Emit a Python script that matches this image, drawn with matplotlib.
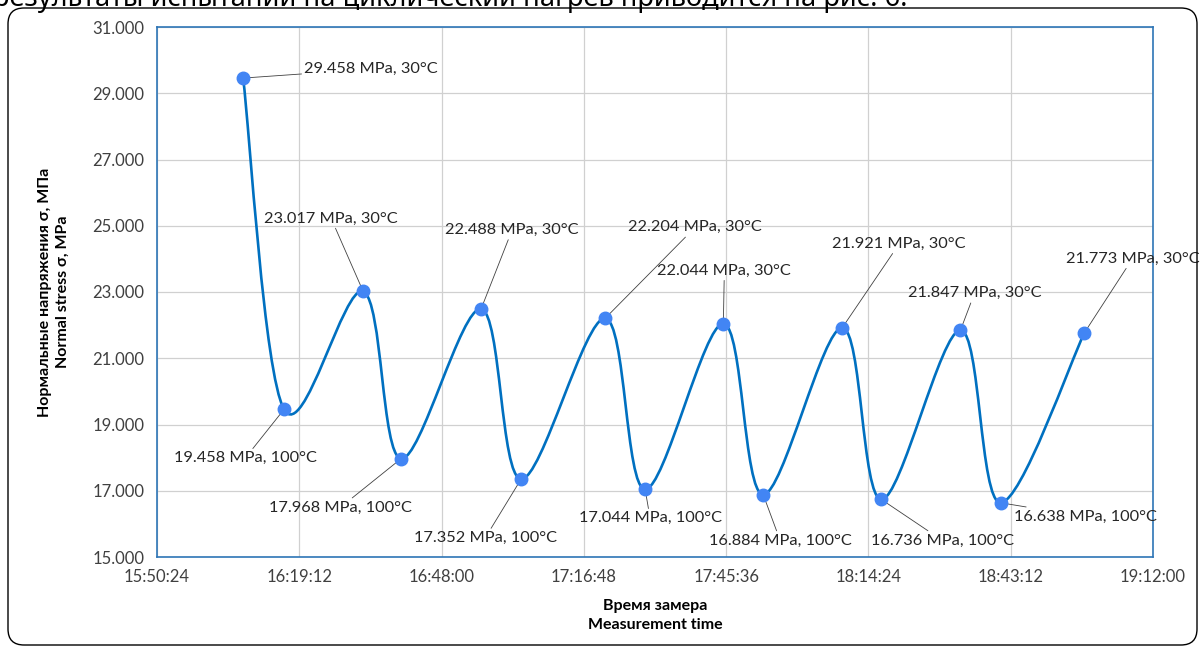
import matplotlib
matplotlib.use("Agg")
import matplotlib.pyplot as plt
import matplotlib.dates as mdates
from matplotlib.path import Path
from matplotlib.patches import PathPatch, FancyBboxPatch
from matplotlib.transforms import IdentityTransform
from datetime import datetime

plt.rcParams['font.family'] = ['Lato', 'Open Sans', 'DejaVu Sans']

# measurement times and stress values
times = ["16:07:50", "16:16:07", "16:32:08", "16:39:48", "16:56:00", "17:04:06",
         "17:21:06", "17:29:12", "17:45:02", "17:53:06", "18:09:06", "18:17:02",
         "18:33:02", "18:41:08", "18:58:08"]
stress = [29.458, 19.458, 23.017, 17.968, 22.488, 17.352, 22.204, 17.044,
          22.044, 16.884, 21.921, 16.736, 21.847, 16.638, 21.773]
temps = [30, 100, 30, 100, 30, 100, 30, 100, 30, 100, 30, 100, 30, 100, 30]

x_ticks = ["15:50:24", "16:19:12", "16:48:00", "17:16:48", "17:45:36",
           "18:14:24", "18:43:12", "19:12:00"]
y_ticks = [15, 17, 19, 21, 23, 25, 27, 29, 31]

# label offsets in pixels (dx, dy) from each point
label_offsets = [(128, 9), (-39, -49), (-32, 73), (-61, -49), (31, 79), (-36, -59),
                 (90, 91), (5, -29), (1, 53), (17, -46), (57, 84), (61, -41),
                 (14, 37), (85, -14), (48, 74)]


def to_num(s):
    return mdates.date2num(datetime.strptime("2020-01-01 " + s, "%Y-%m-%d %H:%M:%S"))


xs = [to_num(t) for t in times]
xt = [to_num(t) for t in x_ticks]

fig = plt.figure(figsize=(12.02, 6.48), dpi=100)
ax = fig.add_axes([157 / 1202, 1 - 557 / 648, 996 / 1202, 530 / 648])

# smoothed line like excel (bezier through the points)
pts = list(zip(xs, stress))
verts = [pts[0]]
codes = [Path.MOVETO]
n = len(pts)
for i in range(n - 1):
    p0 = pts[i - 1] if i > 0 else pts[i]
    p1 = pts[i]
    p2 = pts[i + 1]
    p3 = pts[i + 2] if i + 2 < n else pts[i + 1]
    c1 = (p1[0] + (p2[0] - p0[0]) / 6, p1[1] + (p2[1] - p0[1]) / 6)
    c2 = (p2[0] - (p3[0] - p1[0]) / 6, p2[1] - (p3[1] - p1[1]) / 6)
    verts += [c1, c2, p2]
    codes += [Path.CURVE4] * 3
ax.add_patch(PathPatch(Path(verts, codes), facecolor='none', edgecolor='#0070C0',
                       lw=1.9, zorder=3))
ax.plot(xs, stress, 'o', color='#4285F4', ms=9, zorder=4)

for x, y, t, off in zip(xs, stress, temps, label_offsets):
    ax.annotate("{:.3f} MPa, {}°C".format(y, t), xy=(x, y), xytext=off,
                textcoords='offset pixels', ha='center', va='center',
                fontsize=11.8, color='#262626', annotation_clip=False,
                arrowprops=dict(arrowstyle='-', color='#404040', lw=0.6,
                                shrinkA=0, shrinkB=0))

ax.set_xlim(xt[0], xt[-1])
ax.set_ylim(y_ticks[0], y_ticks[-1])
ax.set_xticks(xt)
ax.set_xticklabels(x_ticks)
ax.set_yticks(y_ticks)
ax.set_yticklabels(["{:.3f}".format(v) for v in y_ticks])
ax.tick_params(length=0, labelsize=12, labelcolor='#404040', pad=9)
ax.grid(True, color='#D0D0D0', lw=0.9)
ax.set_axisbelow(True)
for s in ax.spines.values():
    s.set_color('#2E75B6')
    s.set_linewidth(1.2)

ax.set_xlabel("Время замера\nMeasurement time", fontsize=11.5, fontweight='bold',
              linespacing=1.4, labelpad=10)
ax.set_ylabel("Нормальные напряжения σ, МПа\nNormal stress σ, MPa", fontsize=11.5,
              fontweight='bold', linespacing=1.4, labelpad=16)

# rounded chart frame and cut-off document text above
frame = FancyBboxPatch((8, 3), 1189, 637, boxstyle="round,pad=0,rounding_size=16",
                       transform=IdentityTransform(), facecolor='none',
                       edgecolor='black', lw=1.0)
fig.patches.append(frame)
fig.text(-0.006, 1 - 6 / 648, "результаты испытаний на циклический нагрев приводится на рис. 6.",
         fontsize=19.6, family=['Noto Sans', 'DejaVu Sans'], va='baseline', color='black')

fig.savefig("out.png", dpi=100)
